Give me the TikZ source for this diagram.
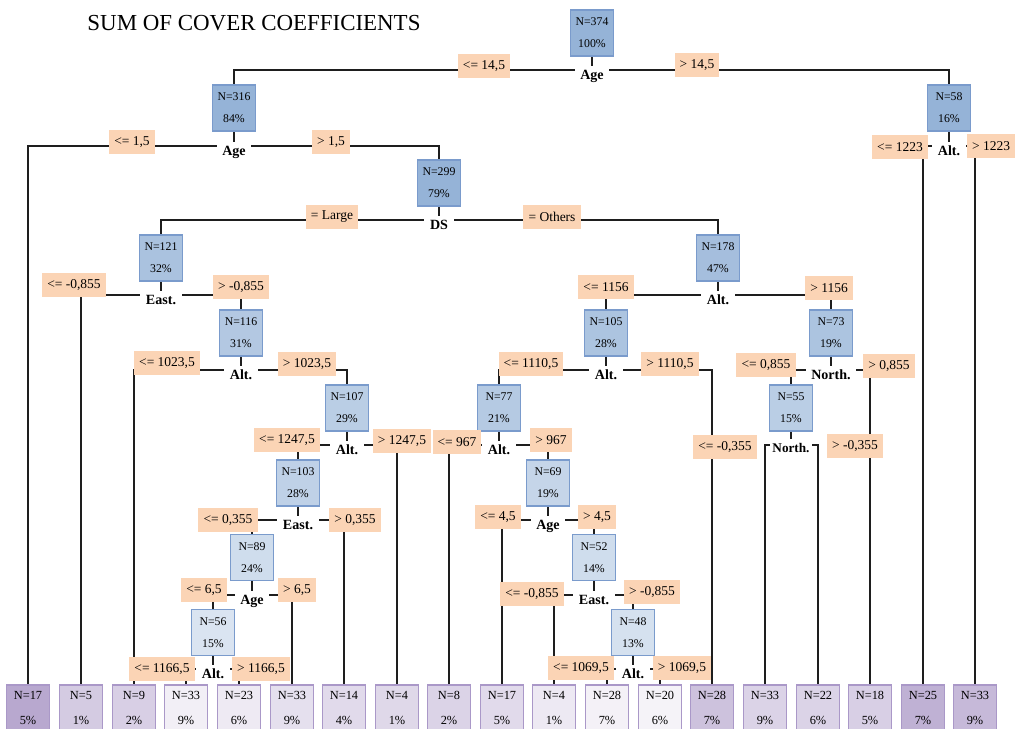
\documentclass[tikz,border=0pt]{standalone}
\usepackage{fontspec}
\setmainfont{Liberation Serif}
\usetikzlibrary{backgrounds}
\definecolor{steel}{RGB}{149,179,215}
\definecolor{steelrim}{RGB}{122,155,204}
\definecolor{lilac}{RGB}{184,168,207}
\definecolor{lilacrim}{RGB}{170,152,200}
\definecolor{peach}{RGB}{251,212,181}
\definecolor{ink}{RGB}{30,30,30}
\tikzset{
  splitbox/.style={fill=steel!#1!white,draw=steelrim,line width=1pt,minimum width=30.6pt,
    minimum height=32.7pt,inner sep=0pt,align=center,font=\fontsize{8.4}{15.6}\selectfont},
  splitbox/.default=100,
  leafbox/.style={fill=lilac!#1!white,draw=lilacrim,line width=1pt,minimum width=30.6pt,
    minimum height=32.7pt,inner sep=0pt,align=center,font=\fontsize{8.8}{17.8}\selectfont},
  leafbox/.default=100,
  condtag/.style={fill=peach,inner xsep=3.6pt,inner ysep=0pt,minimum height=16.5pt,
    font=\fontsize{9.6}{11}\selectfont},
  vartag/.style={fill=white,inner xsep=4pt,inner ysep=2pt,text height=7.5pt,text depth=2.5pt,
    font=\fontsize{10}{12}\selectfont\bfseries},
  link/.style={draw=ink,line width=1.2pt},
}
\begin{document}
\begin{tikzpicture}[x=0.025cm,y=-0.025cm]
  \useasboundingbox (0,0) rectangle (1019,729);
  \node[font=\fontsize{16.3}{20}\selectfont] (title) at (254,23) {SUM OF COVER COEFFICIENTS};
  % inner splits: N / x / y / share / shade / split line / variable
  \foreach \k/\x/\y/\p/\s/\l/\t in {374/592/33/100/100/70/Age, 316/234/108/84/100/146/Age,
      58/949/108/16/100/146/Alt., 299/439/183/79/100/220/DS, 121/161/258/32/80/295/East.,
      178/718/258/47/85/295/Alt., 116/241/333/31/72/370/Alt., 105/606/333/28/78/370/Alt.,
      73/831/333/19/78/370/North., 107/347/408/29/65/445/Alt., 77/499/408/21/70/445/Alt.,
      103/298/483/28/60/520/East., 69/548/483/19/55/520/Age,
      89/252/557.5/24/45/595/Age, 52/594/557.5/14/45/595/East., 56/213/632.5/15/35/669/Alt.,
      48/633/632.5/13/40/669/Alt.}{
    \node[splitbox=\s] (n\k) at (\x,\y) {N=\k\\\p\%};
    \coordinate (j\k) at (\x,\l);
    \node[vartag] (v\k) at (\x,\l+6) {\t};
  }
  % the second North. split hangs its leaves on a bracket
  \node[splitbox=65] (n55) at (791,408) {N=55\\15\%};
  \coordinate (j55) at (791,445);
  \node[vartag,inner xsep=1.5pt,font=\fontsize{9.4}{12}\selectfont\bfseries] (v55) at (791,449) {North.};
  % leaves
  \foreach \x/\n/\p/\s [count=\i] in {28/17/5/100, 81/5/1/60, 134/9/2/55, 186/33/9/18,
      239/23/6/24, 292/33/9/36, 344/14/4/42, 397/4/1/45, 449/8/2/50, 502/17/5/42,
      554/4/1/25, 607/28/7/16, 660/20/6/14, 712/28/7/70, 765/33/9/50, 818/22/6/50,
      870/18/5/55, 923/25/7/90, 975/33/9/80}
    \node[leafbox=\s] (l\i) at (\x,708) {N=\n\\\p\%};
  % split conditions
  \node[condtag] (c374a) at (484,66) {<= 14,5};
  \node[condtag] (c374b) at (697,65) {> 14,5};
  \node[condtag] (c316a) at (132,142) {<= 1,5};
  \node[condtag] (c316b) at (331,142) {> 1,5};
  \node[condtag] (c58a) at (900,147) {<= 1223};
  \node[condtag] (c58b) at (991,146) {> 1223};
  \node[condtag] (c299a) at (332,217) {= Large};
  \node[condtag] (c299b) at (552,217) {= Others};
  \node[condtag] (c121a) at (74,285) {<= -0,855};
  \node[condtag] (c121b) at (241,287) {> -0,855};
  \node[condtag] (c116a) at (167,363) {<= 1023,5};
  \node[condtag] (c116b) at (307,364) {> 1023,5};
  \node[condtag] (c107a) at (287,440) {<= 1247,5};
  \node[condtag] (c107b) at (402,441) {> 1247,5};
  \node[condtag] (c103a) at (228,520) {<= 0,355};
  \node[condtag] (c103b) at (355,520) {> 0,355};
  \node[condtag] (c89a) at (204,590) {<= 6,5};
  \node[condtag] (c89b) at (297,590) {> 6,5};
  \node[condtag] (c56a) at (162,669) {<= 1166,5};
  \node[condtag] (c56b) at (261,669) {> 1166,5};
  \node[condtag] (c178a) at (606,287) {<= 1156};
  \node[condtag] (c178b) at (829,288) {> 1156};
  \node[condtag] (c105a) at (531,364) {<= 1110,5};
  \node[condtag] (c105b) at (670,364) {> 1110,5};
  \node[condtag] (c77a) at (457,442) {<= 967};
  \node[condtag] (c77b) at (551,440) {> 967};
  \node[condtag] (c69a) at (498,517) {<= 4,5};
  \node[condtag] (c69b) at (597,517) {> 4,5};
  \node[condtag] (c52a) at (532,594) {<= -0,855};
  \node[condtag] (c52b) at (652,592) {> -0,855};
  \node[condtag] (c48a) at (581,668) {<= 1069,5};
  \node[condtag] (c48b) at (682,668) {> 1069,5};
  \node[condtag] (c73a) at (766,365) {<= 0,855};
  \node[condtag] (c73b) at (889,366) {> 0,855};
  \node[condtag] (c105c) at (725,447) {<= -0,355};
  \node[condtag] (c73c) at (855,446) {> -0,355};
  % branches
  \begin{scope}[on background layer]
    \foreach \k/\a/\b in {374/n316/n58, 316/l1/n299, 58/l18/l19, 299/n121/n178, 121/l2/n116,
        116/l3/n107, 107/n103/l8, 103/n89/l7, 89/n56/l6, 56/l4/l5, 178/n105/n73, 105/n77/l14,
        77/l9/n69, 69/l10/n52, 52/l11/n48, 48/l12/l13, 73/n55/l17, 55/l15/l16}
      \draw[link] (n\k) -- (j\k) (j\k) -| (\a) (j\k) -| (\b);
  \end{scope}
\end{tikzpicture}
\end{document}
